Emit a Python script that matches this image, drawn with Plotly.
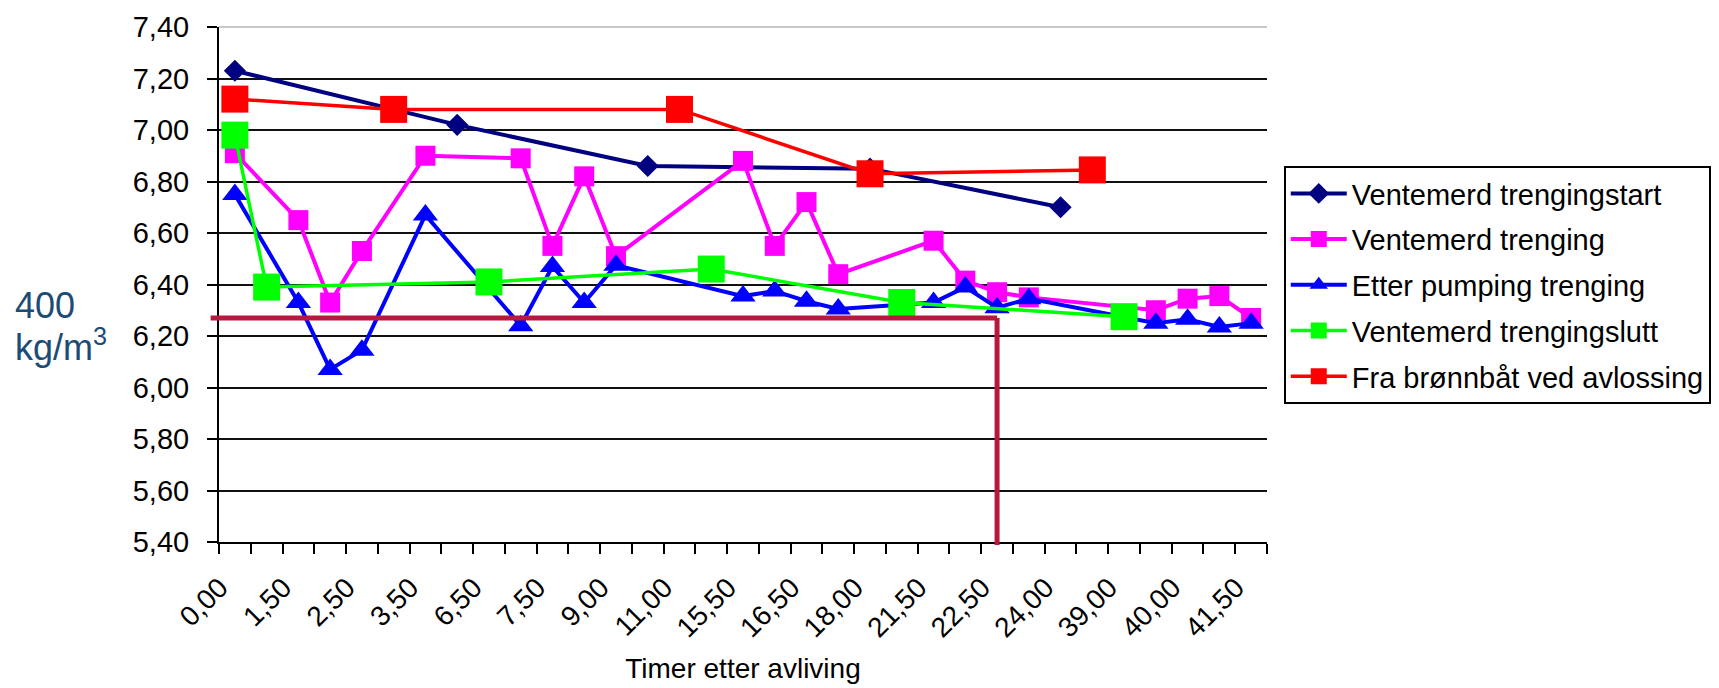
import plotly.graph_objects as go

# Category axis (hours after slaughter); only every other label is shown
categories = ["0,00", "1,00", "1,50", "2,00", "2,50", "3,00", "3,50", "5,00",
              "6,50", "7,00", "7,50", "8,00", "9,00", "10,00", "11,00", "13,00",
              "15,50", "16,00", "16,50", "17,00", "18,00", "20,00", "21,50", "22,00",
              "22,50", "23,00", "24,00", "30,00", "39,00", "39,50", "40,00", "41,00",
              "41,50"]

_ = None
ventemerd_trengingstart = [7.23, _, _, _, _, _, _, 7.02, _, _, _, _, _, 6.86, _, _,
                           _, _, _, _, 6.85, _, _, _, _, _, 6.70, _, _, _, _, _, _]
ventemerd_trenging = [6.91, _, 6.65, 6.33, 6.53, _, 6.90, _, _, 6.89, 6.55, 6.82, 6.51, _, _, _,
                      6.88, 6.55, 6.72, 6.44, _, _, 6.57, 6.415, 6.37, 6.35, _, _, _, 6.30, 6.345, 6.355, 6.27]
etter_pumping_trenging = [6.75, _, 6.33, 6.07, 6.145, _, 6.67, _, _, 6.24, 6.47, 6.33, 6.475, _, _, _,
                          6.355, 6.375, 6.335, 6.305, _, _, 6.33, 6.39, 6.31, 6.345, _, _, _, 6.25, 6.265, 6.235, 6.25]
ventemerd_trengingslutt = [6.98, 6.39, _, _, _, _, _, _, 6.41, _, _, _, _, _, _, 6.46,
                           _, _, _, _, _, 6.33, _, _, _, _, _, _, 6.275, _, _, _, _]
fra_bronnbat = [7.12, _, _, _, _, 7.08, _, _, _, _, _, _, _, _, 7.08, _,
                _, _, _, _, 6.83, _, _, _, _, _, _, 6.845, _, _, _, _, _]

series_names = ["Ventemerd trengingstart", "Ventemerd trenging", "Etter pumping trenging",
                "Ventemerd trengingslutt", "Fra brønnbåt ved avlossing"]
series_values = [ventemerd_trengingstart, ventemerd_trenging, etter_pumping_trenging,
                 ventemerd_trengingslutt, fra_bronnbat]

threshold_value = 6.27          # 400 kg/m3 reference level
threshold_category = "22,50"    # reference time
y_ticks = [5.4, 5.6, 5.8, 6.0, 6.2, 6.4, 6.6, 6.8, 7.0, 7.2, 7.4]

styles = [
    dict(color="#000080", symbol="diamond", size=17, width=4),
    dict(color="#FF00FF", symbol="square", size=20, width=4),
    dict(color="#0000FF", symbol="triangle-up", size=22, width=4),
    dict(color="#00FF00", symbol="square", size=27, width=3.5),
    dict(color="#FF0000", symbol="square", size=27, width=3.5),
]

FONT = "Liberation Sans, Arial, sans-serif"
N = len(categories)
x_idx = list(range(N))

fig = go.Figure()
for i, (name, vals, st) in enumerate(zip(series_names, series_values, styles)):
    fig.add_trace(go.Scatter(
        x=x_idx, y=vals, name=name, mode="lines+markers", connectgaps=True,
        legendgroup=f"g{i}",
        line=dict(color=st["color"], width=st["width"]),
        marker=dict(color=st["color"], symbol=st["symbol"], size=st["size"],
                    line=dict(width=0)),
        cliponaxis=False,
    ))

# reference lines
ci = categories.index(threshold_category)
x_ref_paper = (ci + 0.5) / N
y_ref_paper = (threshold_value - y_ticks[0]) / (y_ticks[-1] - y_ticks[0])
line_col = "#B8183F"
fig.add_shape(type="line", xref="paper", yref="y", x0=-0.008, x1=x_ref_paper,
              y0=threshold_value, y1=threshold_value,
              line=dict(color=line_col, width=5), layer="above")
fig.add_shape(type="line", xref="paper", yref="paper", x0=x_ref_paper, x1=x_ref_paper,
              y0=y_ref_paper, y1=-0.006,
              line=dict(color=line_col, width=5), layer="above")
# light top border at 7,40
fig.add_shape(type="line", xref="paper", yref="paper", x0=0, x1=1, y0=1, y1=1,
              line=dict(color="#C8C8C8", width=2), layer="above")

fig.add_annotation(text="400", xref="paper", yref="paper", x=-0.197, y=0.46,
                   xanchor="left", yanchor="middle", showarrow=False,
                   font=dict(family=FONT, size=36, color="#1C4B75"))
fig.add_annotation(text="kg/m<sup>3</sup>", xref="paper", yref="paper", x=-0.197, y=0.383,
                   xanchor="left", yanchor="middle", showarrow=False,
                   font=dict(family=FONT, size=36, color="#1C4B75"))

fig.update_layout(
    width=1719, height=688,
    margin=dict(l=211, r=460, t=19, b=154, autoexpand=False),
    paper_bgcolor="white", plot_bgcolor="white",
    separators=",.",
    font=dict(family=FONT, size=28, color="black"),
    showlegend=True,
    legend=dict(x=1.016, xanchor="left", y=0.73, yanchor="top",
                bordercolor="black", borderwidth=2, bgcolor="white",
                font=dict(family=FONT, size=29, color="black"),
                tracegroupgap=5, itemwidth=56, traceorder="grouped"),
)
fig.update_xaxes(
    range=[-0.5, N - 0.5], showgrid=False, zeroline=False,
    showline=True, linecolor="black", linewidth=2,
    tickmode="array", tickvals=x_idx[::2], ticktext=categories[::2],
    ticks="outside", ticklen=10, tickcolor="rgba(0,0,0,0)",
    tickangle=-45, ticklabelstandoff=6, ticklabelshift=-15,
    tickfont=dict(family=FONT, size=28, color="black"),
    minor=dict(tickmode="linear", tick0=-0.5, dtick=1, ticks="outside",
               ticklen=10, tickwidth=2, tickcolor="black", showgrid=False),
    title=dict(text="Timer etter avliving", standoff=16,
               font=dict(family=FONT, size=28, color="black")),
)
fig.update_yaxes(
    range=[y_ticks[0], y_ticks[-1]], tickmode="array", tickvals=y_ticks,
    tickformat=".2f", showgrid=True, gridcolor="#111111", gridwidth=2,
    zeroline=False, showline=True, linecolor="black", linewidth=2,
    ticks="outside", ticklen=10, tickwidth=2, tickcolor="black",
    ticklabelstandoff=12,
    tickfont=dict(family=FONT, size=29, color="black"),
)

fig.write_html("out.html")
